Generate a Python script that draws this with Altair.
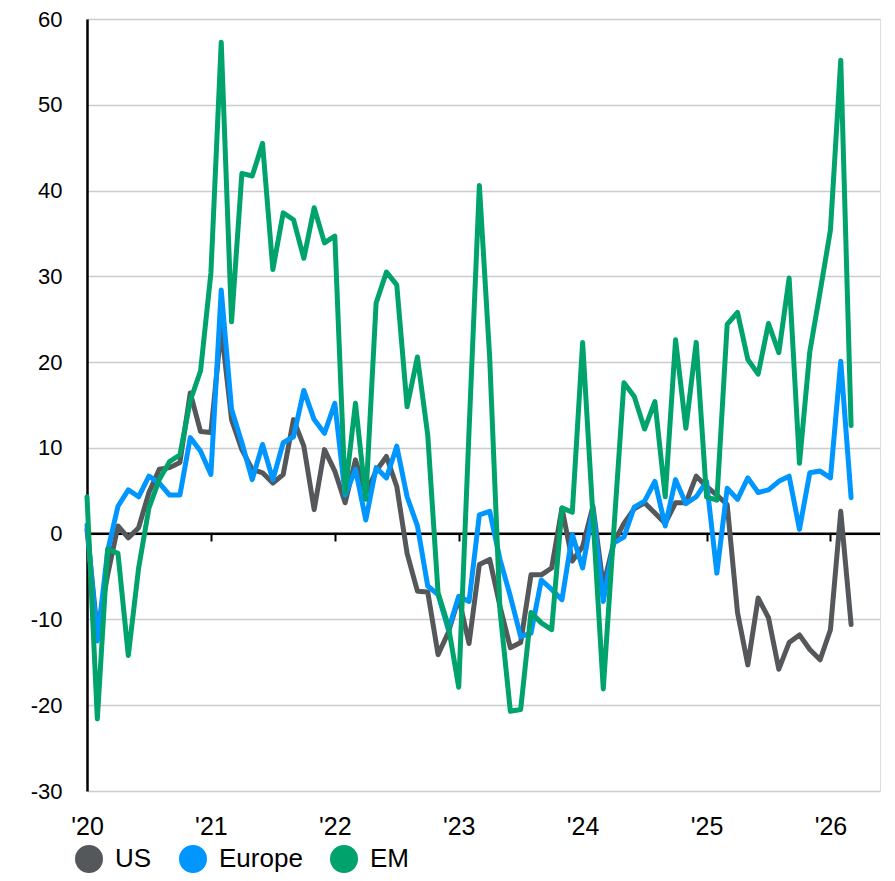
import altair as alt
import pandas as pd

# Monthly values, Jan 2020 .. Mar 2026 (75 months)
us = [0.5, -11.5, -4.8, 0.9, -0.5, 0.7, 4.8, 7.5, 7.7, 8.3, 16.4, 11.9,
      11.8, 24.0, 13.3, 9.8, 7.5, 7.1, 5.9, 6.9, 13.3, 10.2, 2.8, 9.8,
      7.3, 3.6, 8.6, 4.7, 7.3, 9.0, 5.5, -2.3, -6.7, -6.8, -14.1, -11.5,
      -7.5, -12.8, -3.6, -3.0, -8.5, -13.3, -12.7, -4.8, -4.8, -4.0, 3.0, -3.2,
      -1.5, 3.2, -6.1, -1.1, 1.2, 2.9, 3.6, 2.4, 1.2, 3.6, 3.6, 6.7,
      5.5, 4.5, 3.4, -9.2, -15.3, -7.5, -9.8, -15.8, -12.7, -11.8, -13.5, -14.7,
      -11.2, 2.6, -10.6]
europe = [1.0, -12.5, -2.0, 3.2, 5.1, 4.3, 6.7, 5.9, 4.5, 4.5, 11.2, 9.6,
          6.9, 28.4, 14.5, 10.6, 6.3, 10.4, 6.3, 10.6, 11.3, 16.7, 13.3, 11.7,
          15.2, 4.5, 7.5, 1.6, 7.7, 6.5, 10.2, 4.3, 0.9, -6.1, -7.1, -11.2,
          -7.3, -7.9, 2.2, 2.6, -3.0, -7.3, -12.0, -11.6, -5.4, -6.5, -7.7, -0.1,
          -4.0, 2.8, -7.9, -1.1, -0.4, 3.1, 3.8, 6.1, 0.9, 6.3, 3.5, 4.3,
          6.1, -4.6, 5.3, 4.0, 6.5, 4.8, 5.1, 6.1, 6.7, 0.5, 7.1, 7.3,
          6.5, 20.1, 4.2]
em = [4.3, -21.6, -1.8, -2.3, -14.2, -4.0, 3.0, 6.3, 8.4, 9.2, 15.5, 19.0,
      30.4, 57.3, 24.7, 42.0, 41.7, 45.5, 30.8, 37.4, 36.6, 32.1, 38.0, 33.9,
      34.7, 4.8, 15.2, 4.0, 26.9, 30.5, 29.0, 14.8, 20.6, 11.5, -6.9, -10.8,
      -17.9, 12.0, 40.6, 20.5, -9.0, -20.7, -20.5, -9.2, -10.4, -11.2, 3.0, 2.5,
      22.3, 2.0, -18.1, 0.0, 17.6, 16.0, 12.2, 15.4, 4.3, 22.6, 12.3, 22.3,
      4.3, 3.9, 24.4, 25.8, 20.3, 18.6, 24.5, 21.1, 29.8, 8.2, 21.2, 28.2,
      35.4, 55.2, 12.6]

series_names = ["US", "Europe", "EM"]
series_colors = ["#55585b", "#0096ff", "#00a36c"]
year_tick_months = [0, 12, 24, 36, 48, 60, 72]   # Jan of '20 .. '26
y_ticks = [-30, -20, -10, 0, 10, 20, 30, 40, 50, 60]

rows = []
for name, vals in zip(series_names, [us, europe, em]):
    for i, v in enumerate(vals):
        rows.append({"t": i, "value": v, "series": name})
df = pd.DataFrame(rows)

FONT = "Liberation Sans"
xscale = alt.Scale(domain=[0, 76.8], nice=False, zero=False)
yscale = alt.Scale(domain=[-30, 60], nice=False, zero=False)
cscale = alt.Scale(domain=series_names, range=series_colors)

y_axis = alt.Axis(values=y_ticks, grid=True, gridColor="#cccccc", gridWidth=1.5,
                  domain=True, domainColor="black", domainWidth=2.5,
                  ticks=False, tickSize=0, labelPadding=25, labelFontSize=22,
                  labelFont=FONT, labelColor="black", title=None,
                  labelExpr="'' + datum.value")
x_label_axis = alt.Axis(values=year_tick_months, orient="bottom",
                        labelExpr="\"'\" + (20 + datum.value / 12)",
                        grid=False, domain=False, ticks=False, tickSize=0,
                        labelPadding=23, labelFontSize=25, labelFont=FONT,
                        labelColor="black", labelFlush=False, labelOverlap=False,
                        title=None)
x_tick_axis = alt.Axis(values=year_tick_months, orient="bottom", offset=-257,
                       labels=False, grid=False, domain=False, ticks=True,
                       tickSize=7, tickWidth=2, tickColor="black", title=None)

legend = alt.Legend(title=None, orient="none", legendX=-12, legendY=826,
                    direction="horizontal", symbolType="circle",
                    symbolSize=196, symbolStrokeWidth=14, labelFontSize=26,
                    labelFont=FONT, labelColor="black", labelOffset=12,
                    columnPadding=6, labelLimit=300)

base = alt.Chart(df)

zero_rule = alt.Chart(pd.DataFrame({"z": [0]})).mark_rule(
    color="black", strokeWidth=2.5).encode(
    y=alt.Y("z:Q", scale=yscale, axis=y_axis))


def line_layer(name, x_axis):
    return base.transform_filter(alt.datum.series == name).mark_line(
        strokeWidth=5, strokeJoin="round", strokeCap="round").encode(
        x=alt.X("t:Q", scale=xscale, axis=x_axis),
        y=alt.Y("value:Q", scale=yscale, axis=y_axis),
        color=alt.Color("series:N", scale=cscale, legend=legend),
    )


chart = alt.layer(
    zero_rule,
    line_layer("US", x_label_axis),
    line_layer("Europe", x_tick_axis),
    line_layer("EM", None),
).resolve_axis(x="independent").properties(
    width=793, height=772,
    autosize=alt.AutoSizeParams(type="none"),
    padding={"left": 79, "top": 11, "right": 7, "bottom": 82},
).configure_view(stroke=None).configure(background="white")

chart.save("out.html", embed_options={"renderer": "svg", "actions": False})
